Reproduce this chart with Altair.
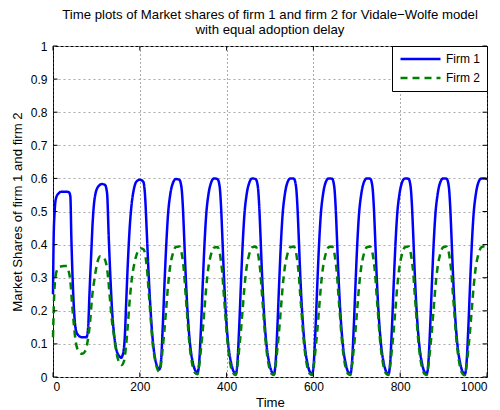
import altair as alt
import pandas as pd

title_lines = [
    "Time plots of Market shares of firm 1 and firm 2 for Vidale\u2212Wolfe model",
    "with equal adoption delay",
]
x_title = "Time"
y_title = "Market Shares of firm 1 and firm 2"
firms = ["Firm 1", "Firm 2"]
firm_colors = ["#0000ff", "#008000"]
x_ticks = [0, 200, 400, 600, 800, 1000]
y_ticks = [0, 0.1, 0.2, 0.3, 0.4, 0.5, 0.6, 0.7, 0.8, 0.9, 1]

# initial transient
t_start_f1 = [0, 1.5, 3.8, 6.9, 13, 20, 30, 37, 40, 42.3,
              45.4, 49, 53, 59, 67, 77, 81, 84, 88, 91.5,
              96, 104, 113, 120, 124.6, 128.5, 132.3, 136.2, 141.5, 147.7,
              152, 157, 162, 165.4, 168.5, 172.3, 176.2, 181, 186, 192,
              200, 208, 212, 216, 220, 224, 228, 232, 238]
share_start_f1 = [0.25, 0.42, 0.50, 0.54, 0.555, 0.56, 0.56, 0.558, 0.545, 0.42,
                  0.29, 0.19, 0.14, 0.125, 0.12, 0.12, 0.15, 0.25, 0.37, 0.47,
                  0.54, 0.575, 0.583, 0.58, 0.555, 0.42, 0.30, 0.20, 0.12, 0.075,
                  0.064, 0.058, 0.075, 0.12, 0.22, 0.34, 0.44, 0.52, 0.565, 0.59,
                  0.596, 0.59, 0.55, 0.44, 0.32, 0.22, 0.14, 0.085, 0.04]

t_start_f2 = [0, 2, 5.4, 10, 16, 25, 32, 36, 40, 44,
              48, 52, 58, 67, 75, 80, 85, 90, 96, 103,
              109, 117, 123, 127, 131, 135, 141, 146, 152, 158,
              164, 168, 172, 176, 181, 187, 194, 202, 209, 213,
              217, 221, 225, 229, 234, 239]
share_start_f2 = [0.12, 0.22, 0.30, 0.325, 0.333, 0.335, 0.335, 0.32, 0.29, 0.22,
                  0.16, 0.11, 0.08, 0.07, 0.08, 0.11, 0.16, 0.24, 0.30, 0.35,
                  0.365, 0.36, 0.34, 0.30, 0.24, 0.18, 0.12, 0.075, 0.045, 0.036,
                  0.05, 0.09, 0.15, 0.22, 0.29, 0.34, 0.375, 0.389, 0.385, 0.365,
                  0.32, 0.25, 0.18, 0.11, 0.06, 0.03]

# settled oscillation (both firms read at the same times)
t_cycle = [
    245, 249, 253, 257, 261, 265, 270, 276, 283, 291, 296, 299, 302, 305, 309, 313, 317, 322, 327,
    333, 337, 341, 345, 349, 353, 358, 364, 371, 379, 384, 387, 390, 393, 397, 401, 405, 410, 415,
    421, 425, 429, 433, 437, 441, 446, 452, 459, 467, 472, 475, 478, 481, 485, 489, 493, 498, 503,
    509, 513, 517, 521, 525, 529, 534, 540, 547, 555, 560, 563, 566, 569, 573, 577, 581, 586, 591,
    597, 601, 605, 609, 613, 617, 622, 628, 635, 643, 648, 651, 654, 657, 661, 665, 669, 674, 679,
    685, 689, 693, 697, 701, 705, 710, 716, 723, 731, 736, 739, 742, 745, 749, 753, 757, 762, 767,
    773, 777, 781, 785, 789, 793, 798, 804, 811, 819, 824, 827, 830, 833, 837, 841, 845, 850, 855,
    861, 865, 869, 873, 877, 881, 886, 892, 899, 907, 912, 915, 918, 921, 925, 929, 933, 938, 943,
    949, 953, 957, 961, 965, 969, 974, 980, 987, 995, 1000,
]
share_cycle_f1 = [
    0.023, 0.05, 0.155, 0.285, 0.40, 0.49, 0.55, 0.585, 0.598, 0.596, 0.573, 0.52, 0.43, 0.33, 0.22, 0.14, 0.085, 0.045, 0.022,
    0.013, 0.047, 0.15, 0.28, 0.40, 0.49, 0.55, 0.586, 0.60, 0.598, 0.575, 0.52, 0.43, 0.33, 0.22, 0.14, 0.085, 0.045, 0.02,
    0.01, 0.045, 0.15, 0.28, 0.40, 0.49, 0.55, 0.586, 0.60, 0.598, 0.575, 0.52, 0.43, 0.33, 0.22, 0.14, 0.085, 0.044, 0.019,
    0.009, 0.045, 0.15, 0.28, 0.40, 0.49, 0.55, 0.587, 0.60, 0.599, 0.575, 0.52, 0.43, 0.33, 0.22, 0.14, 0.084, 0.043, 0.018,
    0.009, 0.045, 0.15, 0.28, 0.40, 0.49, 0.55, 0.587, 0.60, 0.599, 0.575, 0.52, 0.43, 0.33, 0.22, 0.14, 0.084, 0.043, 0.018,
    0.009, 0.045, 0.15, 0.28, 0.40, 0.49, 0.55, 0.587, 0.60, 0.599, 0.575, 0.52, 0.43, 0.33, 0.22, 0.14, 0.084, 0.043, 0.018,
    0.009, 0.045, 0.15, 0.28, 0.40, 0.49, 0.55, 0.587, 0.60, 0.599, 0.575, 0.52, 0.43, 0.33, 0.22, 0.14, 0.084, 0.043, 0.018,
    0.009, 0.045, 0.15, 0.28, 0.40, 0.49, 0.55, 0.587, 0.60, 0.599, 0.575, 0.52, 0.43, 0.33, 0.22, 0.14, 0.084, 0.043, 0.018,
    0.008, 0.045, 0.15, 0.28, 0.40, 0.49, 0.55, 0.587, 0.60, 0.60, 0.597,
]
share_cycle_f2 = [
    0.016, 0.04, 0.09, 0.145, 0.21, 0.275, 0.335, 0.372, 0.393, 0.394, 0.377, 0.352, 0.316, 0.26, 0.19, 0.12, 0.07, 0.032, 0.013,
    0.008, 0.036, 0.086, 0.14, 0.205, 0.27, 0.33, 0.37, 0.391, 0.393, 0.376, 0.35, 0.315, 0.26, 0.19, 0.12, 0.07, 0.03, 0.012,
    0.006, 0.035, 0.085, 0.14, 0.205, 0.27, 0.33, 0.37, 0.392, 0.394, 0.376, 0.35, 0.315, 0.26, 0.19, 0.12, 0.07, 0.03, 0.011,
    0.006, 0.035, 0.085, 0.14, 0.205, 0.27, 0.33, 0.37, 0.392, 0.394, 0.376, 0.35, 0.315, 0.26, 0.19, 0.12, 0.07, 0.03, 0.011,
    0.006, 0.035, 0.085, 0.14, 0.205, 0.27, 0.33, 0.37, 0.392, 0.394, 0.376, 0.35, 0.315, 0.26, 0.19, 0.12, 0.07, 0.03, 0.011,
    0.006, 0.035, 0.085, 0.14, 0.205, 0.27, 0.33, 0.37, 0.392, 0.394, 0.376, 0.35, 0.315, 0.26, 0.19, 0.12, 0.07, 0.03, 0.011,
    0.006, 0.035, 0.085, 0.14, 0.205, 0.27, 0.33, 0.37, 0.392, 0.394, 0.376, 0.35, 0.315, 0.26, 0.19, 0.12, 0.07, 0.03, 0.011,
    0.006, 0.035, 0.085, 0.14, 0.205, 0.27, 0.33, 0.37, 0.392, 0.394, 0.376, 0.35, 0.315, 0.26, 0.19, 0.12, 0.07, 0.03, 0.011,
    0.005, 0.035, 0.085, 0.14, 0.205, 0.27, 0.33, 0.37, 0.392, 0.396, 0.398,
]

f1 = pd.DataFrame({"t": t_start_f1 + t_cycle, "share": share_start_f1 + share_cycle_f1})
f1["firm"] = firms[0]
f2 = pd.DataFrame({"t": t_start_f2 + t_cycle, "share": share_start_f2 + share_cycle_f2})
f2["firm"] = firms[1]
df = pd.concat([f1, f2], ignore_index=True)

FONT = "Liberation Sans"
W, H = 434, 331

legend_kw = dict(
    title=None,
    orient="top-right",
    offset=0,
    padding=7,
    rowPadding=7,
    symbolType="stroke",
    symbolSize=1600,
    clipHeight=12,
    symbolOffset=0,
    labelOffset=4,
    symbolStrokeWidth=2.5,
    fillColor="white",
    strokeColor="black",
    labelFont=FONT,
    labelFontSize=12,
    labelColor="black",
)

xscale = alt.Scale(domain=[0, 1000], nice=False)
yscale = alt.Scale(domain=[0, 1], nice=False)
x_axis = alt.Axis(values=x_ticks, format="d", title=x_title, grid=True, ticks=False,
                  domain=False, labelOverlap=False, labelPadding=4, titlePadding=4,
                  gridDash=[1, 3], gridColor="#555")
y_axis = alt.Axis(values=y_ticks, format="~g", title=y_title, grid=True, ticks=False,
                  domain=False, labelOverlap=False, labelPadding=6, titlePadding=6,
                  gridDash=[2, 3], gridColor="#aaaaaa")

lines = alt.Chart(df).mark_line(strokeWidth=2.5, interpolate="monotone").encode(
    x=alt.X("t:Q", scale=xscale, axis=x_axis),
    y=alt.Y("share:Q", scale=yscale, axis=y_axis),
    color=alt.Color("firm:N", scale=alt.Scale(domain=firms, range=firm_colors),
                    legend=alt.Legend(**legend_kw)),
    strokeDash=alt.StrokeDash("firm:N", scale=alt.Scale(domain=firms, range=[[1, 0], [7, 5]]),
                              legend=alt.Legend(**legend_kw)),
)

xt = pd.DataFrame({"t": x_ticks})
yt = pd.DataFrame({"share": y_ticks})
tick_len = 4.5
x_bottom = alt.Chart(xt).mark_rule(color="black", strokeWidth=1).encode(
    x=alt.X("t:Q", scale=xscale, axis=x_axis), y=alt.value(H), y2=alt.value(H - tick_len))
x_top = alt.Chart(xt).mark_rule(color="black", strokeWidth=1).encode(
    x=alt.X("t:Q", scale=xscale, axis=x_axis), y=alt.value(0), y2=alt.value(tick_len))
y_left = alt.Chart(yt).mark_rule(color="black", strokeWidth=1).encode(
    y=alt.Y("share:Q", scale=yscale, axis=y_axis), x=alt.value(0), x2=alt.value(tick_len))
y_right = alt.Chart(yt).mark_rule(color="black", strokeWidth=1).encode(
    y=alt.Y("share:Q", scale=yscale, axis=y_axis), x=alt.value(W), x2=alt.value(W - tick_len))

chart = alt.layer(lines, x_bottom, x_top, y_left, y_right).properties(
    width=W,
    height=H,
    title=alt.TitleParams(text=title_lines, font=FONT, fontSize=13.2, fontWeight="normal",
                          color="black", anchor="middle", frame="group", offset=3,
                          lineHeight=15),
    autosize=alt.AutoSizeParams(type="none"),
    padding={"left": 53, "top": 46, "right": 13, "bottom": 33},
    background="white",
).configure_view(
    stroke="black", strokeWidth=1
).configure_axis(
    labelFont=FONT, labelFontSize=12, labelColor="black",
    titleFont=FONT, titleFontSize=13.2, titleFontWeight="normal", titleColor="black",
    gridOpacity=1,
)

chart.save("out.html", embed_options={"renderer": "svg", "actions": False})
